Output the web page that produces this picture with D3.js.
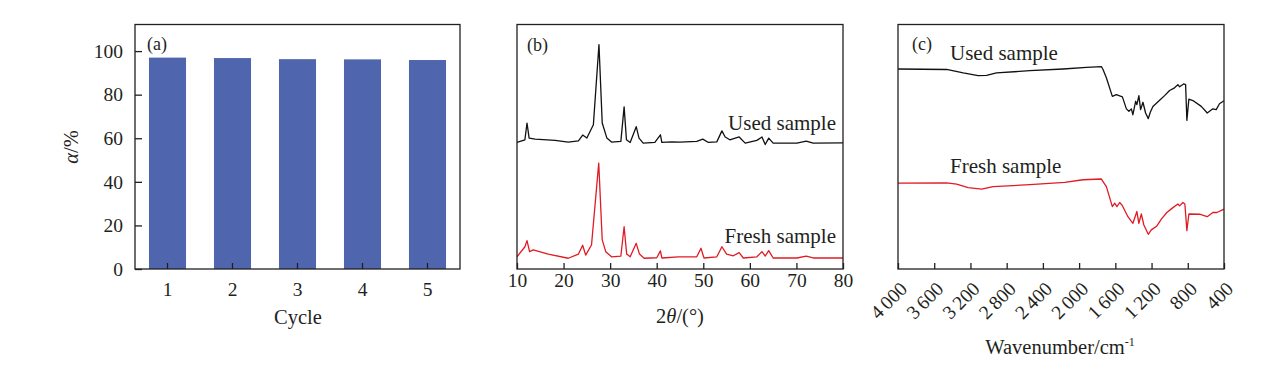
<!DOCTYPE html>
<html>
<head>
<meta charset="utf-8">
<script src="https://cdn.jsdelivr.net/npm/d3@7"></script>
<style>
  body { margin: 0; background: #fff; }
  svg { display: block; font-family: "Liberation Serif", "Times New Roman", serif; }
  .axis path { display: none; }
  .axis line { stroke: #231f20; stroke-width: 1.3; }
  .axis text { fill: #231f20; font-size: 19.5px; font-family: "Liberation Serif", serif; }
</style>
</head>
<body>
<svg id="chart" width="1271" height="366"></svg>
<script>
// (a) conversion per cycle
const cycles = ['1', '2', '3', '4', '5'];
const conversion = [97.0, 96.8, 96.3, 96.2, 95.9];

// (b) XRD, [2theta, intensity a.u.]
const xrdUsed = [
  [10.0, 0.3], [11.7, 1.35], [12.15, 8.2], [12.6, 2.05], [13.9, 1.6], [18.2, 1.1], [21.0, 0.4],
  [23.2, 0.9], [24.1, 3.3], [25.0, 2.05], [26.4, 7.5], [27.6, 40.3], [28.3, 8.2], [29.3, 2.05],
  [30.3, 0.4], [32.3, 0.7], [33.0, 14.8], [33.5, 1.35], [34.3, 0.25], [35.6, 6.7], [36.2, 2.05],
  [37.1, 0], [39.6, 0.25], [40.8, 3.4], [41.1, 0.25], [43.2, 0.5], [45.0, 0.4], [48.6, 0.7],
  [49.9, 1.6], [51.1, 0.25], [52.9, 0.5], [54.0, 5.0], [54.7, 2.5], [55.7, 1.35], [57.7, 2.5],
  [59.0, 0], [61.5, 1.1], [62.6, 2.5], [63.3, -0.6], [64.05, 2.05], [65.0, 0], [70.1, 0],
  [72.1, 0.8], [73.6, 0], [80.0, 0.1]
];
const xrdFresh = [
  [10.0, 0.5], [11.7, 4.6], [12.15, 7.1], [12.7, 2.6], [13.5, 3.3], [16.7, 1.6], [21.0, -0.1],
  [23.2, 1.6], [24.1, 5.2], [24.75, 1.2], [26.0, 5.3], [27.55, 38.8], [28.3, 7.4], [29.05, 2.6],
  [30.3, 0.5], [32.3, 0.8], [33.0, 12.8], [33.55, 1.6], [34.3, 0.5], [35.6, 6.0], [36.3, 1.6],
  [37.3, -0.1], [40.0, 0.1], [40.8, 2.9], [41.1, 0], [44.6, 0.5], [48.6, 0.5], [49.5, 4.0],
  [50.15, 0], [52.9, 0.5], [54.0, 4.6], [55.0, 1.6], [56.45, 0.9], [57.7, 2.2], [58.6, 0],
  [61.5, 0.5], [62.6, 2.6], [63.3, 0.8], [64.05, 3.0], [65.0, 0], [70.1, 0], [72.1, 0.8],
  [73.6, 0], [80.0, 0]
];

// (c) FTIR, [wavenumber, transmittance a.u.]
const ftirUsed = [
  [4000, 41.8], [3463, 41.6], [3280, 40.2], [3115, 39.1], [3022, 39.2], [2912, 40.2], [2545, 41.1],
  [2177, 41.8], [1919, 42.5], [1754, 42.8], [1736, 41.6], [1699, 38.2], [1633, 30.6], [1589, 31.3],
  [1522, 30.4], [1478, 25.5], [1450, 24.5], [1423, 25.5], [1406, 23.1], [1376, 28.6], [1362, 27.2],
  [1340, 30.9], [1321, 25.2], [1295, 28.2], [1266, 23.8], [1236, 21.5], [1214, 24.1], [1185, 26.5],
  [1111, 29.0], [1056, 30.9], [1001, 33.0], [946, 34.1], [909, 35.4], [890, 34.5], [846, 35.7],
  [824, 35.4], [810, 20.8], [788, 29.5], [744, 28.9], [651, 26.5], [585, 23.8], [523, 25.5],
  [486, 25.2], [450, 27.6], [400, 28.8]
];
const ftirFresh = [
  [4000, 35.1], [3463, 35.2], [3353, 34.7], [3225, 33.3], [3077, 32.7], [2949, 33.7], [2545, 34.5],
  [2159, 35.4], [1957, 36.5], [1754, 36.8], [1699, 33.7], [1633, 25.5], [1607, 26.9], [1582, 25.5],
  [1552, 27.2], [1522, 25.9], [1461, 21.4], [1406, 18.7], [1362, 23.5], [1340, 18.7], [1313, 22.5],
  [1285, 18.0], [1236, 14.2], [1203, 16.0], [1141, 17.6], [1092, 20.4], [1031, 23.1], [971, 24.9],
  [909, 26.6], [890, 25.8], [854, 27.2], [832, 26.6], [810, 15.7], [788, 22.5], [670, 22.4],
  [585, 21.4], [523, 23.1], [478, 23.1], [400, 24.5]
];

const twoThetaTicks = [10, 20, 30, 40, 50, 60, 70, 80];
const wavenumberTicks = [4000, 3600, 3200, 2800, 2400, 2000, 1600, 1200, 800, 400];
const alphaTicks = [0, 20, 40, 60, 80, 100];

const ink = '#231f20';
const barColor = '#4f66af';
const redLine = '#e01b24';
const plotTop = 24.5, plotBottom = 269;

const svg = d3.select('#chart');

function frame(x0, x1) {
  svg.append('rect')
    .attr('x', x0).attr('y', plotTop)
    .attr('width', x1 - x0).attr('height', plotBottom - plotTop)
    .attr('fill', 'none').attr('stroke', ink).attr('stroke-width', 1.3);
}

function label(x, y, txt, size, anchor) {
  return svg.append('text')
    .attr('x', x).attr('y', y)
    .attr('font-size', size)
    .attr('text-anchor', anchor || 'start')
    .attr('fill', ink)
    .text(txt);
}

// ---- panel (a)
const xA = d3.scaleBand().domain(cycles).range([135, 460])
  .paddingInner(0.43).paddingOuter(0.215);
const yA = d3.scaleLinear().domain([0, 112.2]).range([plotBottom, plotTop]);

svg.append('g').selectAll('rect')
  .data(conversion)
  .join('rect')
  .attr('x', (d, i) => xA(cycles[i]))
  .attr('y', d => yA(d))
  .attr('width', xA.bandwidth())
  .attr('height', d => yA(0) - yA(d))
  .attr('fill', barColor);

frame(135, 460);

svg.append('g').attr('class', 'axis')
  .attr('transform', `translate(0,${plotBottom})`)
  .call(d3.axisBottom(xA).tickSizeInner(-6).tickSizeOuter(0).tickPadding(13));

svg.append('g').attr('class', 'axis')
  .attr('transform', 'translate(135,0)')
  .call(d3.axisLeft(yA).tickValues(alphaTicks).tickSizeInner(-7).tickSizeOuter(0).tickPadding(12));

label(147, 50, '(a)', 18);
label(298, 324, 'Cycle', 20.5, 'middle');

const yTitle = svg.append('text')
  .attr('transform', 'translate(78,147) rotate(-90)')
  .attr('text-anchor', 'middle')
  .attr('font-size', 20.5)
  .attr('fill', ink);
yTitle.append('tspan').attr('font-style', 'italic').text('α');
yTitle.append('tspan').text('/%');

// ---- panel (b)
const xB = d3.scaleLinear().domain([10, 80]).range([517, 843]);
const yB = d3.scaleLinear().domain([0, 100]).range([plotBottom, plotTop]);
const xrdOffsetUsed = 51.5, xrdOffsetFresh = 4.5;

const lineUsedB = d3.line().x(d => xB(d[0])).y(d => yB(d[1] + xrdOffsetUsed));
const lineFreshB = d3.line().x(d => xB(d[0])).y(d => yB(d[1] + xrdOffsetFresh));

svg.append('path').attr('d', lineUsedB(xrdUsed))
  .attr('fill', 'none').attr('stroke', '#111').attr('stroke-width', 1.3).attr('stroke-linejoin', 'round');
svg.append('path').attr('d', lineFreshB(xrdFresh))
  .attr('fill', 'none').attr('stroke', redLine).attr('stroke-width', 1.3).attr('stroke-linejoin', 'round');

frame(517, 843);

svg.append('g').attr('class', 'axis')
  .attr('transform', `translate(0,${plotBottom})`)
  .call(d3.axisBottom(xB).tickValues(twoThetaTicks).tickSizeInner(-6).tickSizeOuter(0).tickPadding(4));

label(527, 51, '(b)', 18);
label(836, 130, 'Used sample', 21, 'end');
label(836, 243, 'Fresh sample', 21, 'end');

const xTitleB = svg.append('text')
  .attr('x', 680).attr('y', 323)
  .attr('text-anchor', 'middle')
  .attr('font-size', 20.5)
  .attr('fill', ink);
xTitleB.append('tspan').text('2');
xTitleB.append('tspan').attr('font-style', 'italic').text('θ');
xTitleB.append('tspan').text('/(°)');

// ---- panel (c)
const xC = d3.scaleLinear().domain([4000, 400]).range([898, 1224]);
const yC = d3.scaleLinear().domain([0, 100]).range([plotBottom, plotTop]);
const ftirOffsetUsed = 40, ftirOffsetFresh = 0;

const lineUsedC = d3.line().x(d => xC(d[0])).y(d => yC(d[1] + ftirOffsetUsed));
const lineFreshC = d3.line().x(d => xC(d[0])).y(d => yC(d[1] + ftirOffsetFresh));

svg.append('path').attr('d', lineUsedC(ftirUsed))
  .attr('fill', 'none').attr('stroke', '#111').attr('stroke-width', 1.3).attr('stroke-linejoin', 'round');
svg.append('path').attr('d', lineFreshC(ftirFresh))
  .attr('fill', 'none').attr('stroke', redLine).attr('stroke-width', 1.3).attr('stroke-linejoin', 'round');

frame(898, 1224);

const fmtWn = d => d >= 1000 ? Math.floor(d / 1000) + '\u2009' + d3.format('03d')(d % 1000) : String(d);

const axC = svg.append('g').attr('class', 'axis')
  .attr('transform', `translate(0,${plotBottom})`)
  .call(d3.axisBottom(xC).tickValues(wavenumberTicks).tickFormat(fmtWn)
    .tickSizeInner(-6).tickSizeOuter(0).tickPadding(0));

axC.selectAll('text')
  .attr('x', 0).attr('y', 0).attr('dy', 0)
  .attr('text-anchor', 'end')
  .attr('transform', 'translate(10,21) rotate(-45)');

label(912, 50, '(c)', 18);
label(950, 60, 'Used sample', 21);
label(950, 173, 'Fresh sample', 21);

const xTitleC = svg.append('text')
  .attr('x', 1060).attr('y', 354)
  .attr('text-anchor', 'middle')
  .attr('font-size', 20.5)
  .attr('fill', ink);
xTitleC.append('tspan').text('Wavenumber/cm');
xTitleC.append('tspan').attr('dy', -8).attr('font-size', 12).text('-1');
</script>
</body>
</html>
